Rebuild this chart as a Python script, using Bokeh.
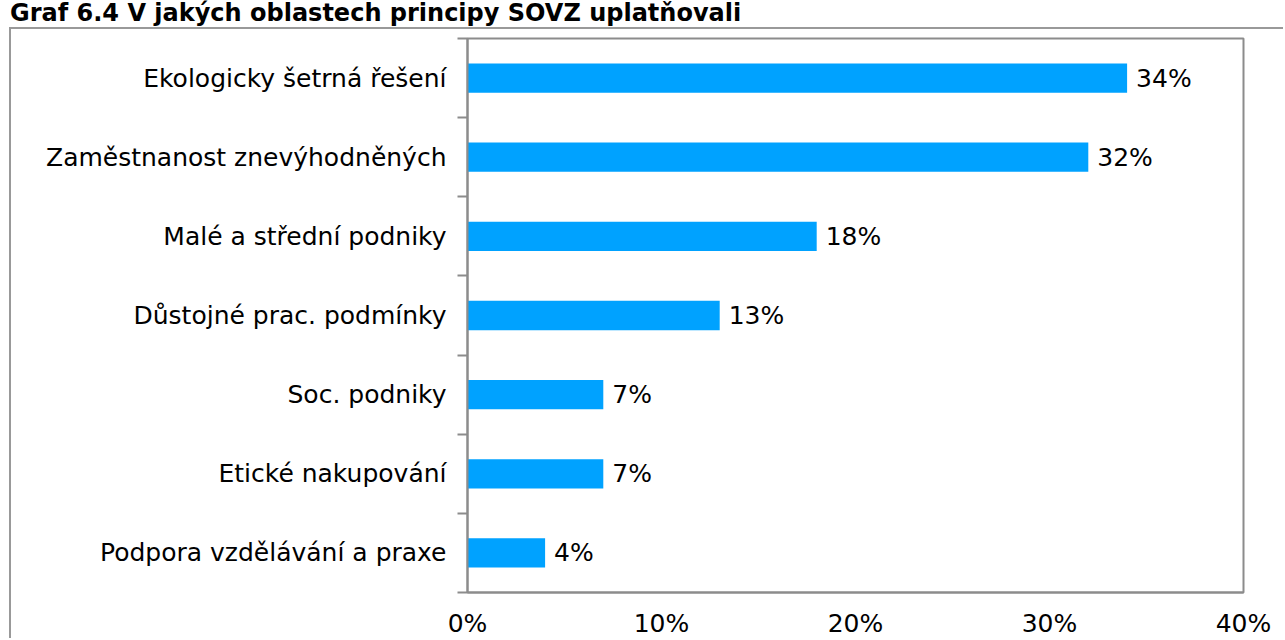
from bokeh.plotting import figure
from bokeh.models import (ColumnDataSource, FixedTicker, PrintfTickFormatter,
                          Range1d, Div)
from bokeh.layouts import column
from bokeh.core.properties import value
from bokeh.embed import file_html
from bokeh.resources import INLINE

title_text = "Graf 6.4 V jakých oblastech principy SOVZ uplatňovali"
categories = ["Ekologicky šetrná řešení", "Zaměstnanost znevýhodněných",
              "Malé a střední podniky", "Důstojné prac. podmínky",
              "Soc. podniky", "Etické nakupování", "Podpora vzdělávání a praxe"]
values = [34, 32, 18, 13, 7, 7, 4]
x_ticks = [0, 10, 20, 30, 40]

FONT = "DejaVu Sans"
GRAY = "#8c8c8c"
BAR = "#00A2FF"

DIV_H = 27
W, H = 1274, 611
B_LEFT, B_RIGHT, B_TOP, B_BOTTOM = 456, 42, 9, 47
n = len(categories)
pos = [n - 1 - i for i in range(n)]
labels = [f"{v}%" for v in values]

src = ColumnDataSource(dict(y=pos, v=values, lab=labels, cat=categories))

p = figure(width=W, height=H, output_backend="svg", toolbar_location=None,
           x_range=Range1d(0, 40), y_range=Range1d(-0.5, n - 0.5),
           min_border_left=B_LEFT, min_border_right=B_RIGHT,
           min_border_top=B_TOP, min_border_bottom=B_BOTTOM)
p.xgrid.visible = False
p.ygrid.visible = False
p.outline_line_color = GRAY
p.outline_line_width = 2
p.background_fill_color = "white"
p.border_fill_color = "white"

p.hbar(y="y", left=0, right="v", height=0.37, source=src,
       fill_color=BAR, line_color=None)
p.text(x="v", y="y", text="lab", source=src, x_offset=9,
       text_baseline="middle", text_align="left",
       text_font=value(FONT), text_font_size="25px", text_color="black")

# y axis: labels at category centres, ticks at boundaries
yax = p.yaxis[0]
yax.ticker = FixedTicker(ticks=pos, minor_ticks=[k - 0.5 for k in range(n + 1)])
yax.major_label_overrides = {pp: c for pp, c in zip(pos, categories)}
yax.major_tick_line_color = None
yax.major_tick_out = 0
yax.major_tick_in = 0
yax.minor_tick_line_color = GRAY
yax.minor_tick_line_width = 2
yax.minor_tick_out = 10
yax.minor_tick_in = 0
yax.axis_line_color = GRAY
yax.axis_line_width = 2
yax.major_label_standoff = 11
yax.major_label_text_font = FONT
yax.major_label_text_font_size = "25px"
yax.major_label_text_color = "black"

xax = p.xaxis[0]
xax.ticker = FixedTicker(ticks=x_ticks)
xax.formatter = PrintfTickFormatter(format="%d%%")
xax.major_tick_line_color = None
xax.major_tick_out = 0
xax.major_tick_in = 0
xax.minor_tick_line_color = None
xax.axis_line_color = GRAY
xax.axis_line_width = 2
xax.major_label_standoff = 16
xax.major_label_text_font = FONT
xax.major_label_text_font_size = "25px"
xax.major_label_text_color = "black"

# outer chart box (left and top edges visible in the reference)
p.margin = (0, 0, 0, 9)
p.styles = {"border-left": "2px solid #999999", "border-top": "2px solid #999999"}

title = Div(text=title_text, width=1100, height=DIV_H, margin=(0, 0, 0, 10),
            styles={"font-family": FONT, "font-size": "24px",
                    "font-weight": "bold", "color": "black",
                    "line-height": "26px", "white-space": "nowrap"})

layout = column(title, p, spacing=0)
open("out.html", "w").write(file_html(layout, INLINE))
